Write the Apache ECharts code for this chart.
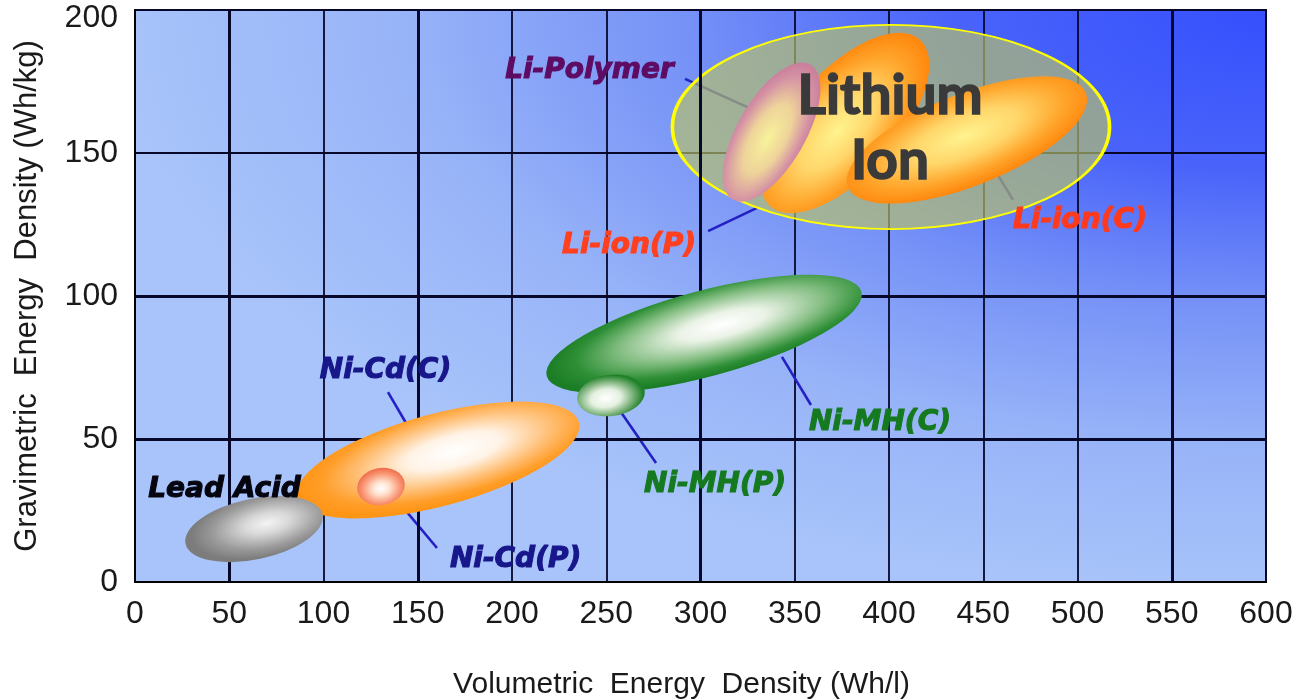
<!DOCTYPE html>
<html>
<head>
<meta charset="utf-8">
<script src="https://cdn.jsdelivr.net/npm/echarts@6/dist/echarts.min.js"></script>
<style>
  html, body { margin: 0; padding: 0; background: #ffffff; }
  #chart { width: 1296px; height: 700px; }
</style>
</head>
<body>
<div id="chart"></div>
<script>
// Energy-density regions of rechargeable battery chemistries.
// x: volumetric energy density (Wh/l), y: gravimetric energy density (Wh/kg)
const volumetricRange = [0, 600];
const gravimetricRange = [0, 200];
const tickStep = 50;

const cells = ['Ni-Cd(C)', 'Ni-Cd(P)', 'Lead Acid', 'Ni-MH(C)', 'Ni-MH(P)', 'Li-ion(P)', 'Li-Polymer', 'Li-ion(C)'];
// each region is an ellipse: the two ends of its long axis (Wh/l, Wh/kg) ...
const longAxisStart = [[85.9, 29.4], [118.0, 31.9], [26.8, 13.4], [218.4, 72.0], [234.6, 63.6], [336.9, 131.4], [317.0, 133.7], [378.2, 138.1]];
const longAxisEnd   = [[235.5, 55.9], [143.0, 34.9], [99.5, 23.6], [385.4, 101.5], [270.4, 66.9], [416.4, 189.6], [358.4, 180.9], [504.5, 171.0]];
// ... and its half thickness, in Wh/kg
const halfThickness = [16.1, 6.5, 10.6, 15.0, 7.2, 18.2, 11.9, 16.1];
// where each name sits
const labelAt = [[132.9, 74.0], [201.9, 7.9], [47.5, 32.2], [395.2, 55.8], [307.7, 34.1], [262.1, 117.5], [241.1, 178.6], [501.3, 126.4]];
// pointer lines from the name to its region (Lead Acid has none)
const pointerFrom = [[134.2, 66.4], [160.2, 11.9], null, [358.6, 61.9], [276.4, 41.6], [304.0, 122.7], [291.8, 175.9], [465.8, 133.6]];
const pointerTo   = [[147.5, 51.4], [135.3, 31.5], null, [343.2, 78.7], [253.0, 64.0], [330.0, 130.8], [328.4, 165.0], [455.2, 145.1]];

// the lithium family region that wraps the three Li cells
const familyName = ['Lithium', 'Ion'];
const familyStart = [285.1, 159.1];
const familyEnd = [517.0, 159.1];
const familyHalf = 35.7;
const familyLabelAt = [400.5, 158.4];

// heavier grid lines
const heavyX = [50, 150, 300, 550];
const heavyY = [50, 100];

// ---- styling ----
const R = echarts.graphic.RadialGradient;
const orangeFill = (fx, fy) => new R(fx, fy, 0.55, [
  { offset: 0, color: '#ffffff' }, { offset: 0.3, color: '#fff3e6' },
  { offset: 0.6, color: '#ffc27c' }, { offset: 0.84, color: '#ff9e2a' }, { offset: 1, color: '#ff9514' }]);
const liOrangeFill = (fx, fy) => new R(fx, fy, 0.55, [
  { offset: 0, color: '#fff38e' }, { offset: 0.4, color: '#ffd66a' },
  { offset: 0.75, color: '#ffa42a' }, { offset: 1, color: '#ff860c' }]);
const regionStyle = {
  'Ni-Cd(C)':  { fill: orangeFill(0.56, 0.45), text: '#17168a' },
  'Ni-Cd(P)':  { fill: new R(0.5, 0.55, 0.55, [{ offset: 0, color: '#ffffff' }, { offset: 0.3, color: '#ffe4d2' }, { offset: 0.72, color: '#f99674' }, { offset: 1, color: '#ee6a48' }]), text: '#17168a' },
  'Lead Acid': { fill: new R(0.6, 0.45, 0.55, [{ offset: 0, color: '#f4f4f4' }, { offset: 0.3, color: '#d8d8d8' }, { offset: 0.72, color: '#9a9a9a' }, { offset: 1, color: '#7c7c7c' }]), text: '#05050f' },
  'Ni-MH(C)':  { fill: new R(0.56, 0.45, 0.55, [{ offset: 0, color: '#ffffff' }, { offset: 0.25, color: '#eaf2e6' }, { offset: 0.58, color: '#86bf84' }, { offset: 0.84, color: '#2e8f36' }, { offset: 1, color: '#1b7d25' }]), text: '#157a1f' },
  'Ni-MH(P)':  { fill: new R(0.42, 0.55, 0.55, [{ offset: 0, color: '#ffffff' }, { offset: 0.4, color: '#e4f0e0' }, { offset: 0.78, color: '#6aa86a' }, { offset: 1, color: '#1f8228' }]), text: '#157a1f' },
  'Li-ion(P)': { fill: liOrangeFill(0.45, 0.5), text: '#ff3f1e' },
  'Li-Polymer':{ fill: new R(0.45, 0.5, 0.55, [{ offset: 0, color: '#f8f29a' }, { offset: 0.45, color: '#eed39a' }, { offset: 0.8, color: '#d593a4' }, { offset: 1, color: '#c97e9c' }]), text: '#5e0b63' },
  'Li-ion(C)': { fill: liOrangeFill(0.5, 0.45), text: '#ff3a1c' }
};
const pointerColor = '#2420c4';
const gridColor = '#07072a';
// plot backdrop: deep blue in the top right corner fading to pale blue
const backdropStops = [
  { offset: 0, color: '#3550fd' }, { offset: 0.28, color: '#4a64fa' },
  { offset: 0.5, color: '#7591f7' }, { offset: 0.75, color: '#98b4f8' }, { offset: 1, color: '#a8c4fa' }];

// ---- series data built from the arrays ----
const regionData = cells.map((name, i) => ({
  name, value: [longAxisStart[i][0], longAxisStart[i][1], longAxisEnd[i][0], longAxisEnd[i][1], halfThickness[i]]
}));
const labelData = cells.map((name, i) => ({ name, value: [labelAt[i][0], labelAt[i][1]] }));
const pointerData = [];
cells.forEach((name, i) => {
  if (pointerFrom[i]) pointerData.push({ name, value: [pointerFrom[i][0], pointerFrom[i][1], pointerTo[i][0], pointerTo[i][1]] });
});

// ellipse from long-axis ends + half thickness, drawn as a scaled, rotated circle
function ellipseElement(api, x1, y1, x2, y2, half, style) {
  const p1 = api.coord([x1, y1]);
  const p2 = api.coord([x2, y2]);
  const dx = p2[0] - p1[0], dy = p2[1] - p1[1];
  const a = Math.sqrt(dx * dx + dy * dy) / 2;
  const b = api.size([0, half])[1];
  return {
    type: 'circle',
    x: (p1[0] + p2[0]) / 2,
    y: (p1[1] + p2[1]) / 2,
    scaleX: a / 100,
    scaleY: b / 100,
    rotation: Math.atan2(-dy, dx),
    shape: { cx: 0, cy: 0, r: 100 },
    style
  };
}

const tickFont = { fontFamily: 'Liberation Sans', fontSize: 32, color: '#1a1a1a' };

const chart = echarts.init(document.getElementById('chart'), null, { renderer: 'canvas' });

chart.setOption({
  animation: false,
  grid: {
    left: 135, right: 30, top: 10, bottom: 118,
    outerBoundsMode: 'none',
    containLabel: false,
    show: true,
    borderColor: '#000000',
    borderWidth: 2,
    backgroundColor: 'transparent'
  },
  xAxis: {
    type: 'value',
    min: volumetricRange[0], max: volumetricRange[1], interval: tickStep,
    name: 'Volumetric  Energy  Density (Wh/l)',
    nameLocation: 'middle',
    nameGap: 88,
    nameTextStyle: { fontFamily: 'Liberation Sans', fontSize: 30, color: '#1a1a1a', padding: [0, 38, 0, 0] },
    axisLine: { lineStyle: { color: '#000000', width: 2 } },
    axisTick: { show: false },
    axisLabel: Object.assign({ margin: 16 }, tickFont),
    splitLine: { lineStyle: { color: gridColor, width: 1.8 } }
  },
  yAxis: {
    type: 'value',
    min: gravimetricRange[0], max: gravimetricRange[1], interval: tickStep,
    name: 'Gravimetric  Energy  Density (Wh/kg)',
    nameLocation: 'middle',
    nameRotate: 90,
    nameGap: 92,
    nameTextStyle: { fontFamily: 'Liberation Sans', fontSize: 31, color: '#1a1a1a' },
    axisLine: { show: true, lineStyle: { color: '#000000', width: 2 } },
    axisTick: { show: false },
    axisLabel: Object.assign({
      margin: 17,
      formatter: v => (v === gravimetricRange[1] ? '{top|' + v + '}' : String(v)),
      rich: { top: Object.assign({ padding: [16, 0, 0, 0] }, tickFont) }
    }, tickFont),
    splitLine: { lineStyle: { color: gridColor, width: 1.8 } }
  },
  series: [
    {
      // plot backdrop, an elliptical glow stretched over the whole plot
      type: 'custom', z: -1, silent: true,
      data: [[0, 0]],
      renderItem: (params) => {
        const cs = params.coordSys;
        return {
          type: 'rect',
          x: cs.x, y: cs.y,
          scaleX: cs.width / 100, scaleY: cs.height / 100,
          shape: { x: 0, y: 0, width: 100, height: 100 },
          style: { fill: new R(1, 0, 1.02, backdropStops) }
        };
      }
    },
    {
      // heavier grid lines
      type: 'line', data: [], z: 1, silent: true,
      markLine: {
        silent: true, symbol: 'none', animation: false,
        label: { show: false },
        lineStyle: { color: gridColor, width: 3, type: 'solid' },
        data: heavyX.map(v => ({ xAxis: v })).concat(heavyY.map(v => ({ yAxis: v })))
      }
    },
    {
      // pointer lines
      type: 'custom', z: 3, silent: true,
      data: pointerData,
      renderItem: (params, api) => {
        const a = api.coord([api.value(0), api.value(1)]);
        const b = api.coord([api.value(2), api.value(3)]);
        return { type: 'line', shape: { x1: a[0], y1: a[1], x2: b[0], y2: b[1] }, style: { stroke: pointerColor, lineWidth: 2.6 } };
      }
    },
    {
      // lithium family outline
      type: 'custom', z: 4, silent: true,
      data: [[familyStart[0], familyStart[1], familyEnd[0], familyEnd[1], familyHalf]],
      renderItem: (params, api) => ellipseElement(api, api.value(0), api.value(1), api.value(2), api.value(3), api.value(4), {
        fill: 'rgba(184,194,104,0.67)', stroke: '#ffff00', lineWidth: 2.5, strokeNoScale: true
      })
    },
    {
      // chemistry regions
      type: 'custom', z: 5, silent: true,
      data: regionData,
      renderItem: (params, api) => {
        const name = cells[params.dataIndex];
        return ellipseElement(api, api.value(0), api.value(1), api.value(2), api.value(3), api.value(4), {
          fill: regionStyle[name].fill
        });
      }
    },
    {
      // chemistry names
      type: 'custom', z: 6, silent: true,
      data: labelData,
      renderItem: (params, api) => {
        const name = cells[params.dataIndex];
        const p = api.coord([api.value(0), api.value(1)]);
        const c = regionStyle[name].text;
        return {
          type: 'text', x: p[0], y: p[1],
          style: {
            text: name, fill: c, stroke: c, lineWidth: 1.1,
            font: 'italic bold 28px "DejaVu Sans"',
            align: 'center', verticalAlign: 'middle',
            shadowColor: c, shadowBlur: 2
          }
        };
      }
    },
    {
      // lithium family name
      type: 'custom', z: 7, silent: true,
      data: [familyLabelAt],
      renderItem: (params, api) => {
        const p = api.coord([api.value(0), api.value(1)]);
        return {
          type: 'text', x: p[0], y: p[1],
          style: {
            text: familyName.join('\n'), fill: '#3a3a3a', stroke: '#3a3a3a', lineWidth: 1.6,
            font: 'bold 55px Lato', lineHeight: 65,
            align: 'center', verticalAlign: 'middle'
          }
        };
      }
    }
  ]
});
</script>
</body>
</html>
